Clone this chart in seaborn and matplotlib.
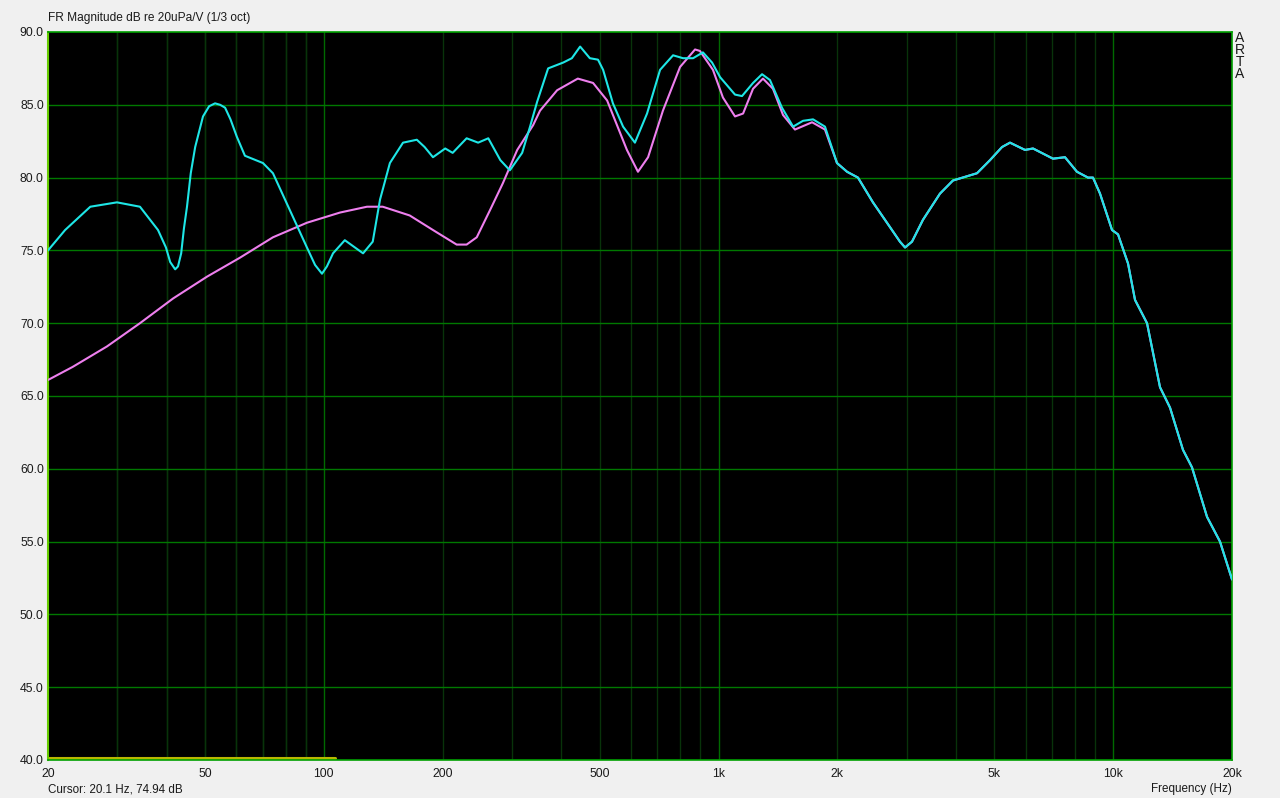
import numpy as np
import pandas as pd
import matplotlib
matplotlib.use("Agg")
import matplotlib.pyplot as plt
import seaborn as sns

# ARTA style frequency response, 1/3 oct smoothed
# cyan trace (measured, with room/baffle ripple)
cyan_freq = [20, 22.1, 25.6, 29.9, 34.2, 38.0, 39.8, 40.8, 42.0, 42.7, 43.5, 44.2, 45.0,
             46.0, 47.2, 49.4, 51.2, 53.0, 54.6, 56.2, 58.0, 60.2, 63.1, 70.1, 74.3, 83.5,
             90.6, 95.0, 98.9, 101.8, 105.5, 113, 125.7, 133, 138.8,
             147, 158.7, 172, 180, 189, 203, 212, 230, 246, 261, 280, 296, 318, 333,
             347, 370, 404, 425, 446, 472, 495, 510, 540, 573, 614, 659, 711, 767, 813,
             862, 913, 963, 1009, 1101, 1147, 1223, 1289, 1350, 1448, 1545, 1637, 1736,
             1861, 1996, 2117, 2256, 2462, 2719, 2882, 2969, 3092, 3296, 3640, 3926, 4518, 4874,
             5228, 5477, 5978, 6264, 7038, 7548, 8096, 8632, 8888, 9260, 9932, 10286,
             10904, 11358, 12182, 13142, 13932, 15026, 15836, 17288, 18648, 20000]
cyan_db = [75.0, 76.4, 78.0, 78.3, 78.0, 76.4, 75.2, 74.2, 73.7, 73.9, 74.8, 76.5, 78.0,
           80.3, 82.1, 84.2, 84.9, 85.1, 85.0, 84.8, 84.0, 82.8, 81.5, 81.0, 80.3, 77.3,
           75.2, 74.0, 73.4, 73.9, 74.8, 75.7, 74.8, 75.6, 78.5,
           81.0, 82.4, 82.6, 82.1, 81.4, 82.0, 81.7, 82.7, 82.4, 82.7, 81.2, 80.5, 81.7, 83.5,
           85.2, 87.5, 87.9, 88.2, 89.0, 88.2, 88.1, 87.4, 85.1, 83.5, 82.4, 84.4, 87.4, 88.4, 88.2,
           88.2, 88.6, 87.9, 86.9, 85.7, 85.6, 86.5, 87.1, 86.7, 84.8, 83.5, 83.9, 84.0,
           83.5, 81.0, 80.4, 80.0, 78.3, 76.6, 75.6, 75.2, 75.6, 77.1, 78.9, 79.8, 80.3, 81.2,
           82.1, 82.4, 81.9, 82.0, 81.3, 81.4, 80.4, 80.0, 80.0, 78.9, 76.4, 76.1,
           74.1, 71.6, 70.0, 65.6, 64.2, 61.3, 60.1, 56.7, 55.0, 52.4]

# magenta trace (low end differs, merges with cyan above ~2 kHz)
mag_freq_low = [20, 23.1, 28.2, 34.2, 41.5, 50.6, 61.3, 74.3, 90.6, 109.9, 128.6, 141,
                165, 189, 217, 230, 244, 264, 284, 309, 339, 353, 390, 440, 481, 522,
                586, 625, 663, 723, 799, 872, 897, 968, 1026, 1101, 1154, 1223, 1296,
                1374, 1457, 1562, 1726, 1861]
mag_db_low = [66.1, 67.0, 68.4, 70.0, 71.7, 73.2, 74.5, 75.9, 76.9, 77.6, 78.0, 78.0,
              77.4, 76.4, 75.4, 75.4, 75.9, 77.8, 79.6, 81.9, 83.6, 84.6, 86.0, 86.8, 86.5, 85.3,
              81.9, 80.4, 81.4, 84.6, 87.6, 88.8, 88.7, 87.4, 85.5, 84.2, 84.4, 86.1, 86.8,
              86.1, 84.3, 83.3, 83.8, 83.3]

# cursor marker line along the bottom
cursor_freq = [20, 107]
cursor_db = [40.15, 40.15]

x_ticks = [20, 50, 100, 200, 500, 1000, 2000, 5000, 10000, 20000]
x_labels = ["20", "50", "100", "200", "500", "1k", "2k", "5k", "10k", "20k"]
y_ticks = [40, 45, 50, 55, 60, 65, 70, 75, 80, 85, 90]

tail = [i for i, f in enumerate(cyan_freq) if f > 1900]
mag_freq = mag_freq_low + [cyan_freq[i] for i in tail]
mag_db = mag_db_low + [cyan_db[i] for i in tail]

df_cyan = pd.DataFrame({"freq": cyan_freq, "db": cyan_db})
df_mag = pd.DataFrame({"freq": mag_freq, "db": mag_db})
df_cur = pd.DataFrame({"freq": cursor_freq, "db": cursor_db})

sns.set_style("dark")
plt.rcParams["font.family"] = ["Liberation Sans", "DejaVu Sans"]

bg = "#f0f0f0"
txt = "#1a1a1a"
fig = plt.figure(figsize=(12.8, 7.98), dpi=100, facecolor=bg)
ax = fig.add_axes([48 / 1280, 1 - 760 / 798, 1184 / 1280, 728 / 798])
ax.set_facecolor("black")
ax.set_xscale("log")
ax.set_xlim(20, 20000)
ax.set_ylim(40, 90)

# grid: bright decades / 5 dB, darker minor decade lines
minor = [m * d for d in (10, 100, 1000) for m in range(2, 10) if 20 < m * d < 20000]
minor += [30, 40, 50, 60, 70, 80, 90]
for f in minor:
    ax.axvline(f, color="#08330a", lw=1.0, zorder=1)
for f in (100, 1000, 10000):
    ax.axvline(f, color="#006a00", lw=1.0, zorder=1)
for y in y_ticks[1:-1]:
    ax.axhline(y, color="#007800", lw=1.0, zorder=1)
ax.grid(False)

sns.lineplot(data=df_cur, x="freq", y="db", color="#b8b800", lw=2.2, ax=ax, zorder=2)
sns.lineplot(data=df_mag, x="freq", y="db", color="#ee7fee", lw=1.5, ax=ax,
             sort=True, zorder=3)
sns.lineplot(data=df_cyan, x="freq", y="db", color="#1ee6e6", lw=1.5, ax=ax,
             sort=True, zorder=4)
for ln in ax.get_lines():
    ln.set_solid_joinstyle("round")

ax.set_xticks(x_ticks)
ax.set_xticklabels(x_labels)
ax.xaxis.set_minor_locator(matplotlib.ticker.NullLocator())
ax.set_yticks(y_ticks)
ax.set_yticklabels([f"{v:.1f}" for v in y_ticks])
ax.tick_params(axis="both", length=0, labelsize=8.8, colors=txt)
ax.tick_params(axis="y", pad=3)
ax.tick_params(axis="x", pad=6)
ax.set_xlabel("")
ax.set_ylabel("")

for side in ("top", "right", "bottom"):
    ax.spines[side].set_color("#00a000")
    ax.spines[side].set_linewidth(1.2)
ax.spines["left"].set_color("#66cc00")
ax.spines["left"].set_linewidth(1.5)

fig.text(48 / 1280, 1 - 18 / 798, "FR Magnitude dB re 20uPa/V (1/3 oct)",
         fontsize=8.6, color=txt, va="center", ha="left")
fig.text(48 / 1280, 1 - 789 / 798, "Cursor: 20.1 Hz, 74.94 dB",
         fontsize=8.4, color=txt, va="center", ha="left")
fig.text(1232 / 1280, 1 - 789 / 798, "Frequency (Hz)",
         fontsize=8.4, color=txt, va="center", ha="right")
fig.text(1240 / 1280, 1 - 31 / 798, "A\nR\nT\nA", fontsize=10, color=txt,
         va="top", ha="center", linespacing=0.82)

fig.savefig("out.png", dpi=100, facecolor=bg)
